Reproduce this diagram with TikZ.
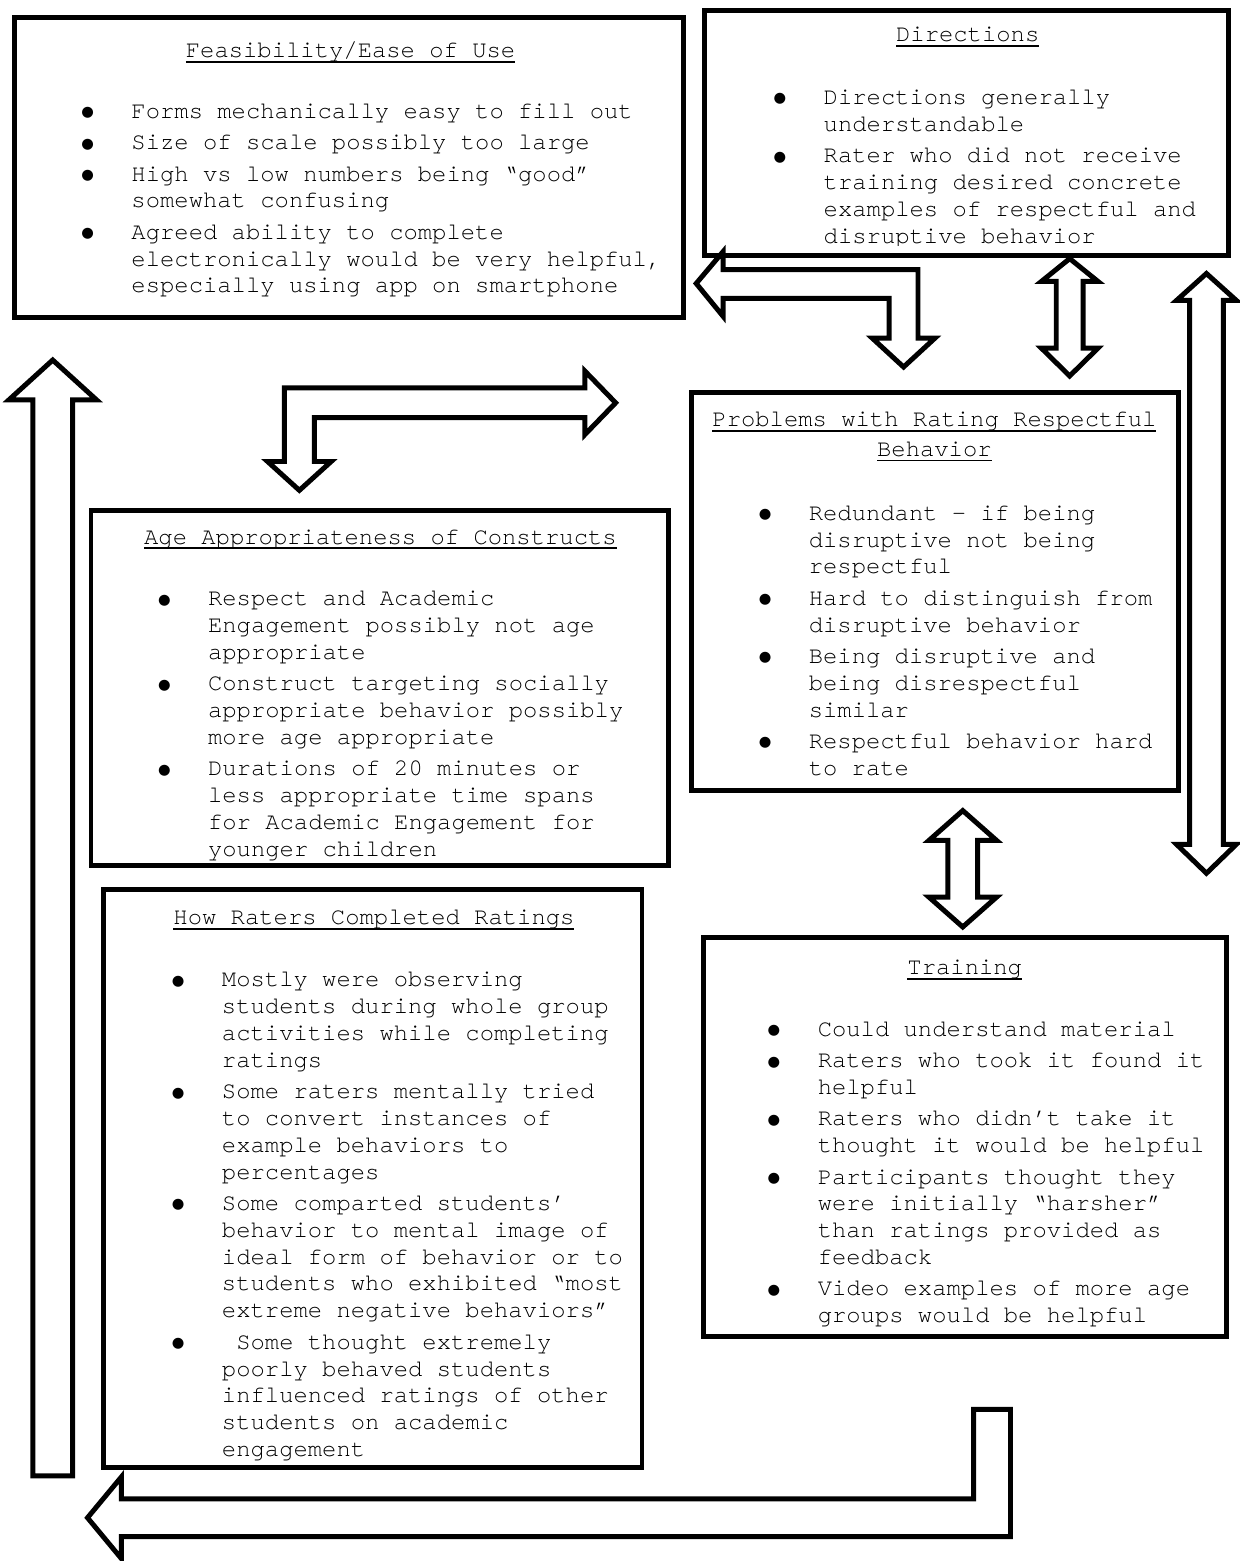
\documentclass[tikz,border=0pt]{standalone}
\usepackage{fontspec}
\newfontfamily\courfont[Ligatures=CommonOff]{TeX Gyre Cursor}
\newfontfamily\symfont{DejaVu Sans}

\newsavebox\headbox
\newcommand\headline[1]{\sbox\headbox{#1}\rlap{\rule[-5pt]{\wd\headbox}{2pt}}\usebox\headbox}
\newcommand\bul{\makebox[44pt][l]{\makebox[0pt]{\raisebox{1.5pt}{\symfont\fontsize{14.5}{14.5}\selectfont ●}}}}

\begin{document}
\begin{tikzpicture}[x=1pt, y=-1pt, font=\courfont\fontsize{24}{27}\selectfont,
    box/.style={draw, line width=5pt, rectangle, inner sep=0pt},
    head/.style={inner sep=0pt, anchor=base},
    items/.style={inner sep=0pt, anchor=base west},
    blockarrow/.style={draw, line width=5pt, fill=white}]
        \fill[white] (0,0) rectangle (1246,1561);

        % Block arrows
        \draw[blockarrow] (700,285) -- (727,253) -- (727,271) -- (923,271) -- (923,340) -- (940,340)
            -- (908.5,369) -- (877,340) -- (894,340) -- (894,300) -- (727,300) -- (727,318) -- cycle;
        \draw[blockarrow] (619,405) -- (588,373) -- (588,390) -- (286,390) -- (286,464) -- (269,464)
            -- (301,493) -- (333,464) -- (316,464) -- (316,420) -- (588,420) -- (588,437) -- cycle;
        \draw[blockarrow] (1075.5,260) -- (1104,283) -- (1089,283) -- (1089,350) -- (1104,350)
            -- (1075.5,378) -- (1047,350) -- (1062,350) -- (1062,283) -- (1047,283) -- cycle;
        \draw[blockarrow] (1213,275) -- (1243,302) -- (1230,302) -- (1230,849) -- (1243,849)
            -- (1213,878) -- (1183,849) -- (1196,849) -- (1196,302) -- (1183,302) -- cycle;
        \draw[blockarrow] (968,815) -- (1002,845) -- (983,845) -- (983,902) -- (1002,902)
            -- (968,932) -- (934,902) -- (953,902) -- (953,845) -- (934,845) -- cycle;
        \draw[blockarrow] (53,362) -- (97,402) -- (73,402) -- (73,1484) -- (33,1484) -- (33,402) -- (9,402) -- cycle;
        \draw[blockarrow] (88,1526) -- (122,1485) -- (122,1507) -- (979,1507) -- (979,1417) -- (1016,1417)
            -- (1016,1545) -- (122,1545) -- (122,1567) -- cycle;

        % Feasibility/Ease of Use
        \node[box, minimum width=673pt, minimum height=302pt] (feas) at (351,168.5) {};
        \node[head] (feas-h) at (352.5,58) {\headline{Feasibility/Ease of Use}};
        \node[items] (feas-l) at (88,119) {\begin{tabular}[t]{@{}l@{}l@{}}
            \bul & Forms mechanically easy to fill out\\[4.5pt]
            \bul & Size of scale possibly too large\\[4.5pt]
            \bul & High vs low numbers being “good”\\
                 & somewhat confusing\\[4.5pt]
            \bul & Agreed ability to complete\\
                 & electronically would be very helpful,\\
                 & especially using app on smartphone
            \end{tabular}};

        % Directions
        \node[box, minimum width=527pt, minimum height=246pt] (dirs) at (972,133.5) {};
        \node[head] (dirs-h) at (973,42) {\headline{Directions}};
        \begin{scope}
            \clip (712,14) rectangle (1232,247);
            \node[items] (dirs-l) at (784,105) {\begin{tabular}[t]{@{}l@{}l@{}}
                \bul & Directions generally\\
                     & understandable\\[4.5pt]
                \bul & Rater who did not receive\\
                     & training desired concrete\\
                     & examples of respectful and\\
                     & disruptive behavior
                \end{tabular}};
        \end{scope}

        % Problems with Rating Respectful Behavior
        \node[box, minimum width=489pt, minimum height=400pt] (probs) at (940,594.5) {};
        \node[head] (probs-h1) at (939.5,429) {\headline{Problems with Rating Respectful}};
        \node[head] (probs-h2) at (939.5,459) {\headline{Behavior}};
        \node[items] (probs-l) at (769,523) {\begin{tabular}[t]{@{}l@{}l@{}}
            \bul & Redundant – if being\\
                 & disruptive not being\\
                 & respectful\\[4.5pt]
            \bul & Hard to distinguish from\\
                 & disruptive behavior\\[4.5pt]
            \bul & Being disruptive and\\
                 & being disrespectful\\
                 & similar\\[4.5pt]
            \bul & Respectful behavior hard\\
                 & to rate
            \end{tabular}};

        % Age Appropriateness of Constructs
        \node[box, minimum width=581pt, minimum height=357pt] (age) at (382,692) {};
        \node[head] (age-h) at (382.5,547) {\headline{Age Appropriateness of Constructs}};
        \node[items] (age-l) at (165,609) {\begin{tabular}[t]{@{}l@{}l@{}}
            \bul & Respect and Academic\\
                 & Engagement possibly not age\\
                 & appropriate\\[4.5pt]
            \bul & Construct targeting socially\\
                 & appropriate behavior possibly\\
                 & more age appropriate\\[4.5pt]
            \bul & Durations of 20 minutes or\\
                 & less appropriate time spans\\
                 & for Academic Engagement for\\
                 & younger children
            \end{tabular}};

        % How Raters Completed Ratings
        \node[box, minimum width=541pt, minimum height=581pt] (raters) at (375,1185) {};
        \node[head] (raters-h) at (376,930) {\headline{How Raters Completed Ratings}};
        \node[items] (raters-l) at (179,992) {\begin{tabular}[t]{@{}l@{}l@{}}
            \bul & Mostly were observing\\
                 & students during whole group\\
                 & activities while completing\\
                 & ratings\\[4.5pt]
            \bul & Some raters mentally tried\\
                 & to convert instances of\\
                 & example behaviors to\\
                 & percentages\\[4.5pt]
            \bul & Some comparted students’\\
                 & behavior to mental image of\\
                 & ideal form of behavior or to\\
                 & students who exhibited “most\\
                 & extreme negative behaviors”\\[4.5pt]
            \bul & \ Some thought extremely\\
                 & poorly behaved students\\
                 & influenced ratings of other\\
                 & students on academic\\
                 & engagement
            \end{tabular}};

        % Training
        \node[box, minimum width=526pt, minimum height=401pt] (train) at (970.5,1143) {};
        \node[head] (train-h) at (970,980) {\headline{Training}};
        \node[items] (train-l) at (778,1042) {\begin{tabular}[t]{@{}l@{}l@{}}
            \bul & Could understand material\\[4.5pt]
            \bul & Raters who took it found it\\
                 & helpful\\[4.5pt]
            \bul & Raters who didn’t take it\\
                 & thought it would be helpful\\[4.5pt]
            \bul & Participants thought they\\
                 & were initially “harsher”\\
                 & than ratings provided as\\
                 & feedback\\[4.5pt]
            \bul & Video examples of more age\\
                 & groups would be helpful
            \end{tabular}};
    \end{tikzpicture}
\end{document}
